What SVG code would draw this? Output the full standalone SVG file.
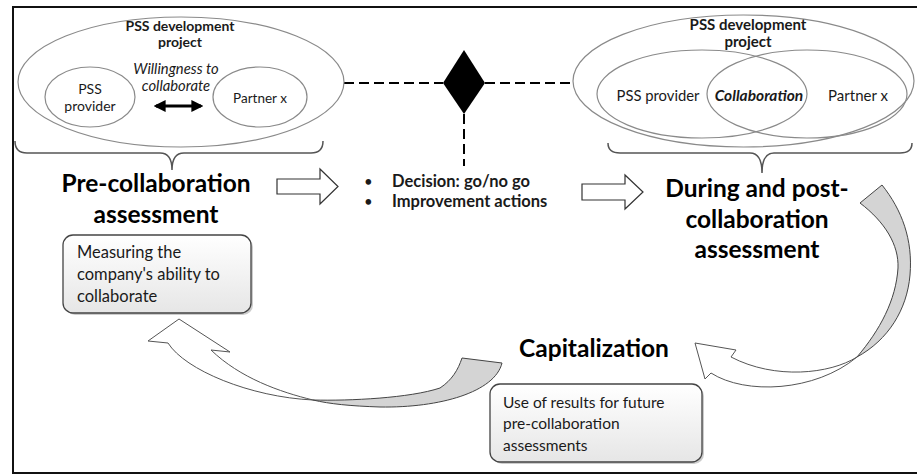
<svg xmlns="http://www.w3.org/2000/svg" width="917" height="475" viewBox="0 0 917 475">
<style>
text{font-family:Lato,"Liberation Sans",sans-serif;fill:#1a1a1a}
.ell{fill:none;stroke:#8a8a8a;stroke-width:1.2}
.sm{font-size:14px;text-anchor:middle}
.b{font-weight:bold}
.i{font-style:italic}
.h{font-size:24.5px;font-weight:bold;text-anchor:middle;fill:#000}
.brace{fill:none;stroke:#555;stroke-width:1.5}
.dash{stroke:#000;stroke-width:2;stroke-dasharray:10 5;fill:none}
.hollow{fill:#fff;stroke:#333;stroke-width:1.2}
.box{fill:url(#g);stroke:#444;stroke-width:1.3}
.shadow{fill:#999;opacity:.5}
.ribg{fill:#d4d4d4;stroke:#444;stroke-width:1}
.ribw{fill:#fff;stroke:#555;stroke-width:1}
.dec{font-size:16.5px;font-weight:bold}
</style>
<defs>
<linearGradient id="g" x1="0" y1="0" x2="0" y2="1"><stop offset="0" stop-color="#ffffff"/><stop offset="1" stop-color="#e6e6e6"/></linearGradient>
<marker id="ah" viewBox="0 0 10 10" refX="8" refY="5" markerWidth="4" markerHeight="4" orient="auto-start-reverse"><path d="M0,0 L10,5 L0,10 Z" fill="#000"/></marker>
</defs>
<rect x="13" y="7" width="905" height="466" fill="none" stroke="#111" stroke-width="2"/>

<g id="connectors">
<line class="dash" x1="344" y1="83" x2="443" y2="83"/>
<line class="dash" x1="485" y1="83" x2="573" y2="83"/>
<line class="dash" x1="464" y1="114" x2="464" y2="166"/>
<polygon class="hollow" points="277,179 320,179 320,169 338,186.5 320,204 320,194 277,194"/>
<polygon class="hollow" points="582,184 625,184 625,175 643,192 625,209 625,200 582,200"/>
<path class="ribg" d="M882,185 C902,210 913,240 910,275 C907,310 888,340 857,357 C880,330 896,300 898,268 C899,245 885,222 860,203 Z"/>
<path class="ribw" d="M857,357 C830,374 775,380 731,357 L736,350 L695,343 L705,379 L711,373 C745,395 815,392 857,357 Z"/>
<path class="ribg" d="M462,358 L502,363 C495,392 440,408 380,407 C350,406 330,404 313,400 C350,401 410,398 440,388 C452,380 458,370 462,358 Z"/>
<path class="ribw" d="M313,400 C280,392 240,378 211,350 L230,352 L179,319 L148,341 L168,343 C185,370 250,397 313,400 Z"/>
</g>

<g id="pre-project">
<ellipse class="ell" cx="181" cy="82" rx="163" ry="65"/>
<text class="sm b" x="180" y="31">PSS development</text>
<text class="sm b" x="180" y="47">project</text>
</g>
<g id="pre-provider">
<ellipse class="ell" cx="90" cy="97" rx="45" ry="30"/>
<text class="sm" x="90" y="94">PSS</text>
<text class="sm" x="90" y="111">provider</text>
</g>
<g id="pre-partner">
<ellipse class="ell" cx="260" cy="97" rx="47" ry="30"/>
<text class="sm" x="260" y="103" style="font-size:13.5px">Partner x</text>
</g>
<g id="willingness">
<text class="sm i" x="176" y="74" style="font-size:14.8px">Willingness to</text>
<text class="sm i" x="176" y="91" style="font-size:14.8px">collaborate</text>
<line x1="156" y1="106" x2="201" y2="106" stroke="#000" stroke-width="3" marker-start="url(#ah)" marker-end="url(#ah)"/>
</g>
<g id="pre-brace"><path class="brace" d="M15,141 Q15,153 27,153 L160,153 Q172,153 172,170 Q172,153 184,153 L311,153 Q323,153 323,141"/></g>
<g id="pre-assessment">
<text class="h" x="156" y="192">Pre-collaboration</text>
<text class="h" x="156" y="223">assessment</text>
</g>
<g id="measuring">
<rect class="shadow" x="65" y="237" width="188" height="78" rx="10"/>
<rect class="box" x="63" y="235" width="188" height="78" rx="10"/>
<text x="77" y="258" style="font-size:16.5px">Measuring the</text>
<text x="77" y="280" style="font-size:16.5px">company's ability to</text>
<text x="77" y="302" style="font-size:16.5px">collaborate</text>
</g>

<g id="decision">
<polygon points="464,50 485,83 464,114 443,83" fill="#000"/>
<text x="364" y="187" style="font-size:15px">•</text>
<text x="364" y="207" style="font-size:15px">•</text>
<text class="dec" x="392" y="187">Decision: go/no go</text>
<text class="dec" x="392" y="207">Improvement actions</text>
</g>

<g id="during-project">
<ellipse class="ell" cx="743.5" cy="81" rx="170.5" ry="66"/>
<text class="sm b" x="748" y="30" style="font-size:15px">PSS development</text>
<text class="sm b" x="748" y="47" style="font-size:15px">project</text>
</g>
<g id="during-provider">
<ellipse class="ell" cx="702" cy="94" rx="105" ry="44"/>
<text class="sm" x="658" y="101" style="font-size:14.8px">PSS provider</text>
</g>
<g id="during-partner">
<ellipse class="ell" cx="807" cy="94" rx="100" ry="44"/>
<text class="sm" x="858" y="101" style="font-size:15px">Partner x</text>
</g>
<g id="collaboration"><text class="sm b i" x="759" y="101" style="font-size:15.5px">Collaboration</text></g>
<g id="during-brace"><path class="brace" d="M608,143 Q608,153 620,153 L750,153 Q762,153 762,173 Q762,153 774,153 L900,153 Q912,153 912,143"/></g>
<g id="during-assessment">
<text class="h" x="757" y="197">During and post-</text>
<text class="h" x="757" y="228">collaboration</text>
<text class="h" x="757" y="258">assessment</text>
</g>

<g id="capitalization">
<text class="h" x="594" y="357">Capitalization</text>
</g>
<g id="use-results">
<rect class="shadow" x="492" y="386" width="212" height="78" rx="10"/>
<rect class="box" x="490" y="384" width="212" height="78" rx="10"/>
<text x="503" y="408" style="font-size:15.5px">Use of results for future</text>
<text x="503" y="429" style="font-size:15.5px">pre-collaboration</text>
<text x="503" y="451" style="font-size:15.5px">assessments</text>
</g>
</svg>
